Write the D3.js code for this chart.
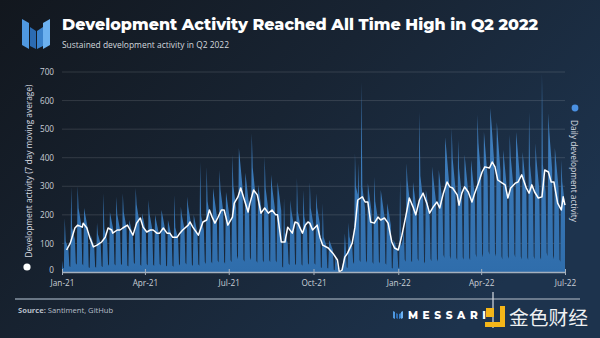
<!DOCTYPE html>
<html>
<head>
<meta charset="utf-8">
<script src="https://cdn.jsdelivr.net/npm/d3@7/dist/d3.min.js"></script>
<style>
  html, body { margin: 0; padding: 0; background: #151b23; }
  svg { display: block; }
</style>
</head>
<body>
<svg id="chart" width="600" height="338"></svg>
<script>
// Daily development activity, one value per day starting Fri 1 Jan 2021,
// then grouped by week (Sat, Sun, Mon ... Fri) through Fri 1 Jul 2022.
const startDate = new Date(2021, 0, 1);
const endDate = new Date(2022, 6, 1);
const dailyActivity = [
  40,
  15,12,189,108,99,89,80,
  21,17,298,154,141,127,114,
  31,25,301,223,204,184,165,
  29,23,224,206,188,170,152,
  17,14,130,120,109,99,88,
  18,15,172,132,121,109,98,
  21,17,276,151,138,124,111,
  27,22,210,193,176,160,143,
  28,23,263,201,184,166,149,
  29,24,276,210,192,174,156,
  23,19,182,168,153,139,124,
  33,27,294,236,215,195,174,
  26,21,206,190,173,157,140,
  28,23,252,204,186,168,150,
  26,21,200,184,168,152,136,
  28,23,217,200,183,165,148,
  23,19,182,168,153,139,124,
  22,18,270,156,143,129,116,
  28,23,228,201,184,166,149,
  32,26,263,229,209,189,169,
  26,21,200,184,168,152,136,
  27,22,385,197,180,162,145,
  35,28,368,248,227,205,184,
  37,30,294,268,245,221,198,
  40,33,357,289,264,238,213,
  36,29,280,258,235,213,190,
  42,34,410,302,276,250,224,
  56,45,434,399,364,330,295,
  44,36,347,320,292,264,236,
  51,41,486,366,334,302,270,
  39,32,305,281,256,232,207,
  41,33,403,294,269,243,218,
  42,34,340,302,276,250,224,
  40,33,315,290,265,239,214,
  19,15,260,137,125,113,101,
  30,24,252,214,195,177,158,
  29,24,329,212,193,175,156,
  27,22,287,194,177,161,144,
  31,25,315,224,205,185,166,
  31,25,276,225,206,186,167,
  17,14,241,123,112,102,91,
  14,12,112,104,95,86,77,
  8,6,60,40,20,8,3,
  0,0,10,30,60,136,90,
  17,14,172,123,112,102,91,
  35,28,416,300,285,270,381,
  42,34,665,299,273,247,221,
  40,32,311,286,261,237,212,
  35,28,333,248,227,205,184,
  37,30,287,265,242,219,196,
  31,25,241,222,203,183,164,
  14,12,112,104,95,86,77,
  16,13,322,90,100,115,150,
  44,36,381,320,292,264,236,
  40,33,315,290,265,239,214,
  47,38,560,337,308,278,249,
  37,30,287,265,242,219,196,
  46,38,368,332,303,275,246,
  46,37,357,329,300,272,243,
  60,49,472,435,397,359,321,
  56,45,504,399,364,330,295,
  51,41,462,363,332,300,269,
  52,43,410,377,344,312,279,
  50,41,392,361,330,298,267,
  63,51,550,452,413,373,334,
  63,51,490,451,412,372,333,
  73,60,574,528,482,436,390,
  66,54,525,477,436,394,353,
  55,44,427,393,359,325,291,
  56,46,480,405,370,334,299,
  63,51,490,451,412,372,333,
  54,44,420,386,353,319,286,
  52,42,560,375,342,310,277,
  55,45,451,394,360,326,292,
  52,43,696,376,343,311,278,
  68,55,556,488,445,403,360,
  56,45,434,399,364,330,295,
  44,36,392,316,289,261,234
];

// 7 day moving average: days since 1 Jan 2021 and the average on that day
const maDays = [
  5,9,14,17,22,23,27,30,34,38,43,47,50,54,55,60,63,66,71,74,77,81,85,88,92,96,99,103,106,110,
  114,117,120,125,128,131,137,139,142,148,153,157,160,163,166,169,173,176,180,185,187,191,194,198,202,204,208,212,216,220,
  224,228,232,234,238,242,245,250,253,256,261,264,267,269,272,277,280,283,289,294,299,301,304,307,310,315,318,321,326,329,
  332,335,339,343,346,350,354,358,361,365,369,373,377,381,384,388,392,396,399,403,407,410,414,418,421,424,429,431,434,437,
  441,445,448,452,456,459,464,467,470,473,478,481,484,487,492,495,499,504,507,510,513,517,521,524,528,531,534,538,542,544,546
];
const maValues = [
  77,101,154,164,157,171,154,122,88,94,105,122,154,147,136,147,147,154,164,147,129,171,189,157,140,147,147,136,136,154,
  136,136,122,122,136,147,164,175,157,129,175,182,217,192,171,189,217,217,164,192,241,263,294,252,210,241,287,270,206,224,
  206,217,200,200,105,105,157,136,175,171,136,164,175,171,147,164,122,94,84,66,42,0,7,52,66,101,157,252,263,245,
  245,175,171,192,182,189,171,105,84,77,129,192,259,228,200,252,276,241,206,228,245,224,276,315,298,294,270,234,276,298,
  280,245,276,311,350,368,364,385,368,322,311,305,259,294,311,315,340,294,276,305,280,259,263,357,350,315,315,241,217,263,234
];

const yTicks = [0, 100, 200, 300, 400, 500, 600, 700];
const xTickLabels = ["Jan-21", "Apr-21", "Jul-21", "Oct-21", "Jan-22", "Apr-22", "Jul-22"];

const titleText = "Development Activity Reached All Time High in Q2 2022";
const subtitleText = "Sustained development activity in Q2 2022";
const leftAxisText = "Development activity (7 day moving average)";
const rightAxisText = "Daily development activity";
const sourceLabel = "Source:";
const sourceText = " Santiment, GitHub";
const brandText = "MESSARI";
const watermarkText = "金色财经";

// ---- build rows ----
const daily = dailyActivity.map((v, i) => ({ date: d3.timeDay.offset(startDate, i), value: v }));
const movingAvg = maDays.map((d, i) => ({ date: d3.timeDay.offset(startDate, d), value: maValues[i] }));
const parseTick = d3.timeParse("%b-%y");
const xTickDates = xTickLabels.map(parseTick);

const W = 600, H = 338;
const svg = d3.select("#chart");
const defs = svg.append("defs");

// background
const bg = defs.append("linearGradient").attr("id", "bgGrad")
  .attr("x1", 0).attr("y1", 0).attr("x2", 1).attr("y2", 0.55);
bg.append("stop").attr("offset", 0).attr("stop-color", "#12171e");
bg.append("stop").attr("offset", 0.5).attr("stop-color", "#182433");
bg.append("stop").attr("offset", 1).attr("stop-color", "#1d334d");
svg.append("rect").attr("width", W).attr("height", H).attr("fill", "url(#bgGrad)");

const areaGrad = defs.append("linearGradient").attr("id", "areaGrad")
  .attr("gradientUnits", "userSpaceOnUse").attr("x1", 0).attr("x2", 0).attr("y1", 72).attr("y2", 272);
areaGrad.append("stop").attr("offset", 0).attr("stop-color", "#4686c6");
areaGrad.append("stop").attr("offset", 1).attr("stop-color", "#2f6dab");

// scales
const x = d3.scaleTime().domain([startDate, endDate]).range([62, 565]);
const y = d3.scaleLinear().domain([0, 700]).range([272, 72]);

// gridlines
svg.append("g").selectAll("line").data(yTicks.filter(t => t > 0)).join("line")
  .attr("x1", 62).attr("x2", 565)
  .attr("y1", d => y(d)).attr("y2", d => y(d))
  .attr("stroke", "#ffffff").attr("stroke-opacity", 0.13).attr("stroke-width", 1);

// daily area
svg.append("path").datum(daily)
  .attr("fill", "url(#areaGrad)")
  .attr("d", d3.area().x(d => x(d.date)).y0(y(0)).y1(d => y(d.value)));

// moving average line
svg.append("path").datum(movingAvg)
  .attr("fill", "none").attr("stroke", "#ffffff").attr("stroke-width", 1.5)
  .attr("stroke-linejoin", "round")
  .attr("d", d3.line().x(d => x(d.date)).y(d => y(d.value)));

// x axis
const xAxis = svg.append("g").attr("transform", `translate(0,${y(0)})`)
  .call(d3.axisBottom(x).tickValues(xTickDates).tickFormat(d3.timeFormat("%b-%y")).tickSizeOuter(0).tickSizeInner(3));
xAxis.select(".domain").attr("stroke", "#a5b0bd").attr("stroke-width", 1.3);
xAxis.selectAll(".tick line").attr("stroke", "#a5b0bd").attr("y1", -3).attr("y2", 3);
xAxis.selectAll(".tick text").attr("fill", "#c9cfd7").attr("font-family", "'Open Sans', sans-serif")
  .attr("font-size", 8.2).attr("y", 8).attr("dy", "0.71em");

// y axis labels
const yAxis = svg.append("g").attr("transform", "translate(54,0)")
  .call(d3.axisLeft(y).tickValues(yTicks).tickSize(0).tickPadding(0));
yAxis.select(".domain").remove();
yAxis.selectAll(".tick text").attr("fill", "#c9cfd7").attr("font-family", "'Open Sans', sans-serif")
  .attr("font-size", 8.2);
yAxis.selectAll(".tick").filter(d => d === 0).select("text").attr("y", -2);

// left axis title
svg.append("text").attr("transform", "translate(32,171) rotate(-90)")
  .attr("text-anchor", "middle").attr("fill", "#d6dae0")
  .attr("font-family", "'Open Sans', sans-serif").attr("font-size", 9.4)
  .attr("textLength", 173).attr("lengthAdjust", "spacingAndGlyphs")
  .text(leftAxisText);
svg.append("circle").attr("cx", 27).attr("cy", 267).attr("r", 3.6).attr("fill", "#ffffff");

// right axis title
svg.append("text").attr("transform", "translate(571,120) rotate(90)")
  .attr("text-anchor", "start").attr("fill", "#d6dae0")
  .attr("font-family", "'Open Sans', sans-serif").attr("font-size", 9.4)
  .attr("textLength", 102).attr("lengthAdjust", "spacingAndGlyphs")
  .text(rightAxisText);
svg.append("circle").attr("cx", 575).attr("cy", 108).attr("r", 3.4).attr("fill", "#4a90e2");

// title block
const logo = svg.append("g");
[
  { pts: [[22,19],[29,23],[29,49],[22,45]], c: "#4f98e0" },
  { pts: [[30,27],[36,31],[36,49],[30,46]], c: "#2b6bb2" },
  { pts: [[37,31],[43,27],[43,46],[37,49]], c: "#3a82cc" },
  { pts: [[43,23],[50,19],[50,45],[43,49]], c: "#6cb1f0" }
].forEach(p => logo.append("polygon").attr("points", p.pts.map(q => q.join(",")).join(" ")).attr("fill", p.c));

svg.append("text").attr("x", 62).attr("y", 30)
  .attr("fill", "#ffffff").attr("font-family", "Montserrat, 'Open Sans', sans-serif")
  .attr("font-weight", 800).attr("font-size", 17)
  .attr("textLength", 476).attr("lengthAdjust", "spacingAndGlyphs")
  .text(titleText);
svg.append("text").attr("x", 62).attr("y", 47.5)
  .attr("fill", "#d3d8de").attr("font-family", "'Open Sans', sans-serif")
  .attr("font-size", 9.8).attr("textLength", 167).attr("lengthAdjust", "spacingAndGlyphs")
  .text(subtitleText);

// footer
svg.append("line").attr("x1", 15).attr("x2", 580).attr("y1", 299).attr("y2", 299)
  .attr("stroke", "#8693a2").attr("stroke-width", 1.5);
const src = svg.append("text").attr("x", 18).attr("y", 313)
  .attr("fill", "#b7bfc9").attr("font-family", "'Open Sans', sans-serif").attr("font-size", 7.6);
src.append("tspan").attr("font-weight", 700).text(sourceLabel);
src.append("tspan").text(sourceText);

// brand mark
const brand = svg.append("g");
[
  { pts: [[393,311],[395,312],[395,319],[393,318]], c: "#4f98e0" },
  { pts: [[396,313],[398,314],[398,319],[396,318]], c: "#2b6bb2" },
  { pts: [[399,314],[401,313],[401,318],[399,319]], c: "#3a82cc" },
  { pts: [[401,312],[403,311],[403,318],[401,319]], c: "#6cb1f0" }
].forEach(p => brand.append("polygon").attr("points", p.pts.map(q => q.join(",")).join(" ")).attr("fill", p.c));
svg.append("text").attr("x", 408).attr("y", 319)
  .attr("fill", "#ffffff").attr("font-family", "Montserrat, 'Open Sans', sans-serif")
  .attr("font-weight", 800).attr("font-size", 10.5).attr("letter-spacing", 4.6)
  .text(brandText);

// watermark
const wm = svg.append("g");
wm.append("line").attr("x1", 493).attr("x2", 493).attr("y1", 292).attr("y2", 328)
  .attr("stroke", "#d8dde3").attr("stroke-width", 1.2);
wm.append("rect").attr("x", 486).attr("y", 308).attr("width", 8).attr("height", 9).attr("fill", "#f4b619");
wm.append("rect").attr("x", 500).attr("y", 306).attr("width", 5).attr("height", 21).attr("fill", "#f4b619");
wm.append("rect").attr("x", 485).attr("y", 322).attr("width", 20).attr("height", 5).attr("fill", "#f4b619");
wm.append("text").attr("x", 509).attr("y", 325)
  .attr("fill", "#eef0f2").attr("font-family", "'Noto Sans CJK SC', sans-serif")
  .attr("font-size", 19.5).attr("textLength", 79).attr("lengthAdjust", "spacingAndGlyphs")
  .text(watermarkText);
</script>
</body>
</html>
